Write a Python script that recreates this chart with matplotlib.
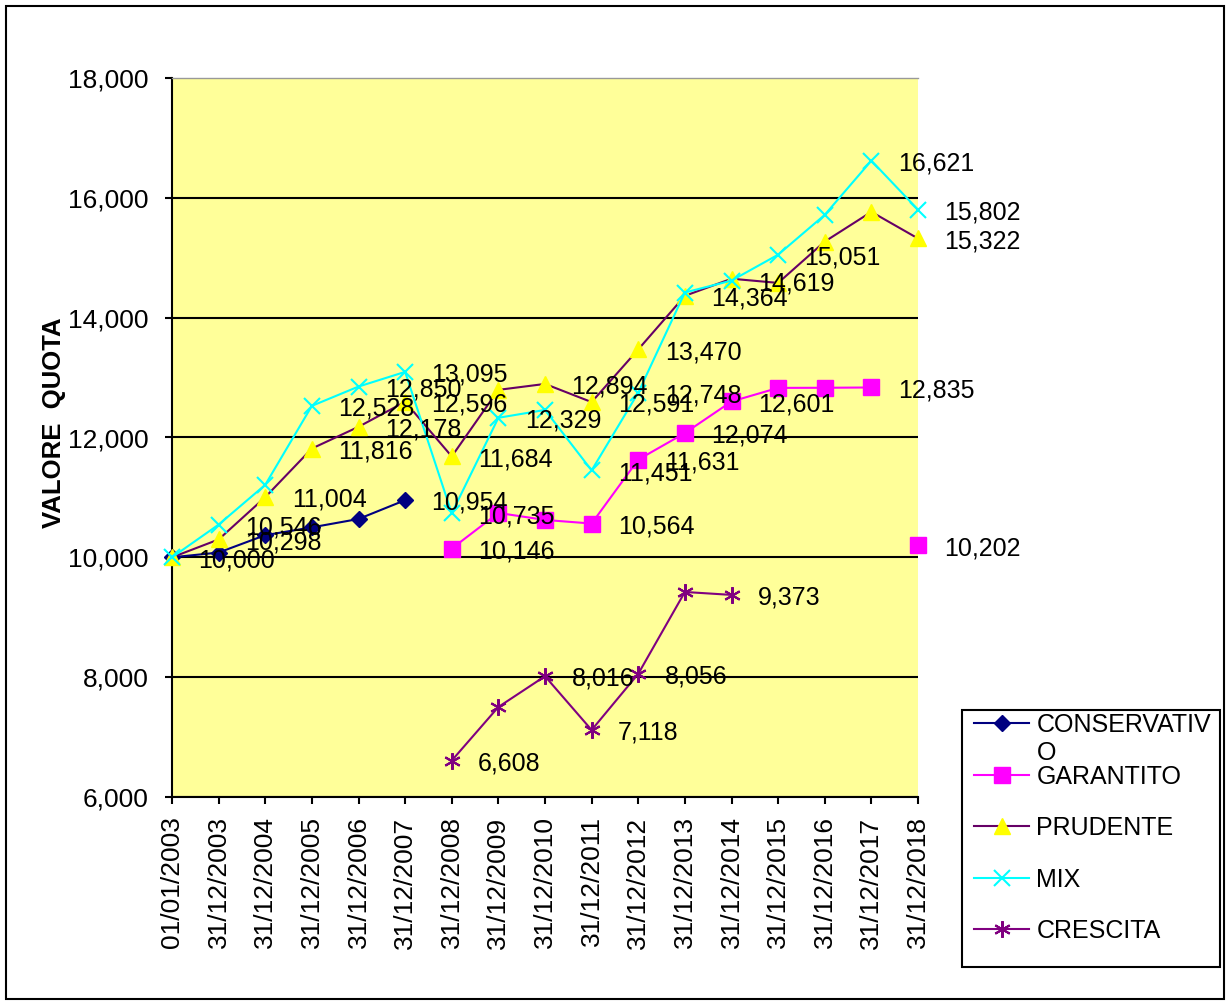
import numpy as np
import matplotlib
matplotlib.use("Agg")
import matplotlib.pyplot as plt
from matplotlib.patches import Rectangle
from matplotlib.ticker import StrMethodFormatter

plt.rcParams['font.family'] = 'Liberation Sans'

nan = np.nan

date = ["01/01/2003", "31/12/2003", "31/12/2004", "31/12/2005", "31/12/2006",
        "31/12/2007", "31/12/2008", "31/12/2009", "31/12/2010", "31/12/2011",
        "31/12/2012", "31/12/2013", "31/12/2014", "31/12/2015", "31/12/2016",
        "31/12/2017", "31/12/2018"]

conservativo = [10000, 10080, 10370, 10500, 10640, 10954,
                nan, nan, nan, nan, nan, nan, nan, nan, nan, nan, nan]
# last value (2018) is a single point, not joined to the line
garantito = [nan, nan, nan, nan, nan, nan, 10146, 10741, 10624, 10564,
             11631, 12074, 12601, 12828, 12830, 12835, 10202]
prudente = [10000, 10298, 11004, 11816, 12178, 12596, 11684, 12795, 12894,
            12591, 13470, 14364, 14650, 14580, 15270, 15766, 15322]
mix = [10000, 10546, 11210, 12528, 12850, 13095, 10735, 12329, 12460,
       11451, 12748, 14420, 14619, 15051, 15716, 16621, 15802]
crescita = [nan, nan, nan, nan, nan, nan, 6608, 7502, 8016, 7118, 8056,
            9422, 9373, nan, nan, nan, nan]

# points that carry a data label
cons_lab = [0, 5]
gar_lab = [6, 9, 10, 11, 12, 15, 16]
pru_lab = [1, 2, 3, 4, 5, 6, 8, 9, 10, 11, 16]
mix_lab = [1, 3, 4, 5, 6, 7, 9, 10, 12, 13, 15, 16]
cre_lab = [6, 8, 9, 10, 12]

W, H = 1227, 1005
fig = plt.figure(figsize=(W / 100, H / 100), dpi=100)
ax = fig.add_axes([172 / W, 1 - 797 / H, (918 - 172) / W, (797 - 78) / H])
ax.set_facecolor('#FFFF99')

x = np.arange(len(date))
ax.plot(x, conservativo, color='#000080', lw=1.5, marker='D', ms=8,
        label='CONSERVATIV', clip_on=False, zorder=3)
ax.plot(x[:16], garantito[:16], color='#FF00FF', lw=1.5, marker='s', ms=11,
        label='GARANTITO', clip_on=False, zorder=3)
ax.plot(x[16:], garantito[16:], ls='none', color='#FF00FF', marker='s', ms=11,
        label='_nolegend_', clip_on=False, zorder=3)
ax.plot(x, prudente, color='#660066', lw=1.5, marker='^', ms=12,
        mfc='#FFFF00', mec='#FFFF00', label='PRUDENTE', clip_on=False, zorder=3)
ax.plot(x, mix, color='#00FFFF', lw=1.5, marker='x', ms=12, mew=1.5,
        label='MIX', clip_on=False, zorder=3)
ax.plot(x, crescita, color='#800080', lw=1.5, marker=(6, 2, 0), ms=12, mew=1.5,
        label='CRESCITA', clip_on=False, zorder=3)

for vals, idxs in [(conservativo, cons_lab), (garantito, gar_lab),
                   (prudente, pru_lab), (mix, mix_lab), (crescita, cre_lab)]:
    for i in idxs:
        ax.annotate(f"{vals[i]:,.0f}", (x[i], vals[i]), xytext=(19, -2),
                    textcoords='offset points', ha='left', va='center',
                    fontsize=18, annotation_clip=False, zorder=4)

ax.set_xlim(0, 16)
ax.set_ylim(6000, 18000)
ax.set_yticks(np.arange(6000, 18001, 2000))
ax.yaxis.set_major_formatter(StrMethodFormatter('{x:,.0f}'))
ax.set_xticks(x)
ax.set_xticklabels(date, rotation=90)
ax.tick_params(axis='y', labelsize=19, length=5, width=1.5, pad=12)
ax.tick_params(axis='x', labelsize=19, length=5, width=1.5, pad=9)

ax.grid(axis='y', color='black', lw=1.5)
ax.set_axisbelow(True)
ax.yaxis.get_gridlines()[-1].set_visible(False)
for s in ['left', 'bottom']:
    ax.spines[s].set_linewidth(1.5)
ax.spines['right'].set_visible(False)
ax.spines['top'].set_color('#999999')
ax.spines['top'].set_linewidth(1)

ax.set_ylabel('VALORE  QUOTA', fontsize=18.5, fontweight='bold')
ax.yaxis.set_label_coords(-0.142, 0.521)

leg = ax.legend(loc='upper left', bbox_to_anchor=(974 / W, 1 - 713 / H),
                bbox_transform=fig.transFigure, frameon=False, borderpad=0,
                borderaxespad=0, fontsize=18, handlelength=2.2,
                handletextpad=0.3, labelspacing=1.1)
fig.add_artist(Rectangle((962 / W, 1 - 967 / H), (1220 - 962) / W, (967 - 710) / H,
                         transform=fig.transFigure, fill=False, ec='black', lw=1.5))
fig.add_artist(Rectangle((6 / W, 1 - 999 / H), (1224 - 6) / W, (999 - 6) / H,
                         transform=fig.transFigure, fill=False, ec='black', lw=1.5))

# the first legend entry wraps onto a second line
fig.canvas.draw()
bb = leg.get_texts()[0].get_window_extent()
fig.text(bb.x0 / W, ((bb.y0 + bb.y1) / 2 - 28) / H, 'O', fontsize=18,
         ha='left', va='center')

fig.savefig('out.png', dpi=100)
